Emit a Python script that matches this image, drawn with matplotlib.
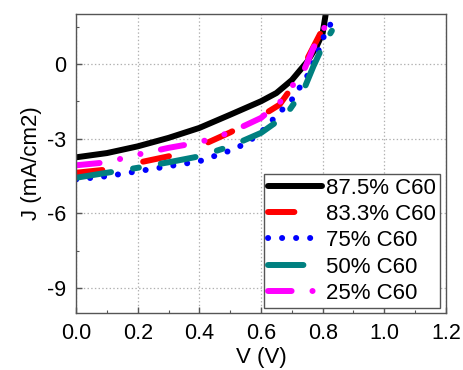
import matplotlib
matplotlib.use("Agg")
import matplotlib.pyplot as plt
from matplotlib.ticker import MultipleLocator

plt.rcParams['font.family'] = ['Liberation Sans', 'DejaVu Sans']
plt.rcParams['lines.scale_dashes'] = False

# Data
V_875 = [0.0, 0.1, 0.2, 0.3, 0.4, 0.5, 0.6, 0.65, 0.7, 0.75, 0.78, 0.8, 0.81]
J_875 = [-3.75, -3.58, -3.31, -2.97, -2.57, -2.04, -1.5, -1.17, -0.65, 0.09, 0.69, 1.23, 2.0]

V_833 = [0.0, 0.1, 0.2, 0.3, 0.4, 0.5, 0.6, 0.66, 0.7, 0.75, 0.8, 0.82]
J_833 = [-4.37, -4.24, -3.97, -3.71, -3.31, -2.75, -2.1, -1.64, -0.95, 0.2, 1.4, 2.0]

V_75 = [0.0, 0.1, 0.2, 0.3, 0.4, 0.5, 0.55, 0.6, 0.65, 0.7, 0.75, 0.78, 0.8, 0.83]
J_75 = [-4.64, -4.51, -4.31, -4.11, -3.91, -3.48, -3.2, -2.75, -2.08, -1.44, -0.48, 0.3, 1.0, 1.7]

V_50 = [0.0, 0.1, 0.2, 0.3, 0.4, 0.5, 0.6, 0.68, 0.74, 0.77, 0.8, 0.83]
J_50 = [-4.57, -4.37, -4.17, -3.95, -3.71, -3.31, -2.77, -2.07, -1.0, -0.1, 0.7, 1.33]

V_25 = [0.0, 0.1, 0.2, 0.3, 0.4, 0.5, 0.6, 0.67, 0.7, 0.74, 0.77, 0.8, 0.82]
J_25 = [-4.07, -3.95, -3.64, -3.37, -3.15, -2.75, -2.17, -1.44, -0.91, -0.24, 0.64, 1.3, 1.86]

labels = ["87.5% C60", "83.3% C60", "75% C60", "50% C60", "25% C60"]
colors = ["#000000", "#ff0000", "#0000ff", "#008080", "#ff00ff"]
xticks = [0.0, 0.2, 0.4, 0.6, 0.8, 1.0, 1.2]
xticklabels = ["0.0", "0.2", "0.4", "0.6", "0.8", "1.0", "1.2"]
yticks = [-9, -6, -3, 0]
yticklabels = ["-9", "-6", "-3", "0"]

fig = plt.figure(figsize=(4.64, 3.70), dpi=100)
ax = fig.add_axes([0.164, 0.154, 0.797, 0.808])

lw = 4.3
ax.plot(V_875, J_875, color=colors[0], lw=lw, solid_capstyle='round', label=labels[0])
ax.plot(V_833, J_833, color=colors[1], lw=lw, dashes=(19, 30), dash_capstyle='round', label=labels[1])
ax.plot(V_75, J_75, color=colors[2], lw=lw, dashes=(0.1, 10), dash_capstyle='round', label=labels[2])
ax.plot(V_50, J_50, color=colors[3], lw=lw, dashes=(25.5, 16, 4.3, 16), dash_capstyle='round', label=labels[3])
ax.plot(V_25, J_25, color=colors[4], lw=lw, dashes=(17, 15, 0.1, 15, 0.1, 15), dash_capstyle='round', label=labels[4])

ax.set_xlim(0, 1.2)
ax.set_ylim(-10, 2)
ax.xaxis.set_minor_locator(MultipleLocator(0.1))
ax.yaxis.set_minor_locator(MultipleLocator(1.5))
ax.set_xticks(xticks)
ax.set_xticklabels(xticklabels)
ax.set_yticks(yticks)
ax.set_yticklabels(yticklabels)

ax.grid(True, which='major', color='#b0b0b0', linestyle=':', linewidth=0.9)
ax.tick_params(which='both', direction='in', color='#555555', labelsize=15.5)
ax.tick_params(axis='x', pad=7)
ax.tick_params(axis='y', pad=7)
ax.tick_params(which='major', length=4, width=1)
ax.tick_params(which='minor', length=2.5, width=0.8)
for s in ax.spines.values():
    s.set_color('#555555')
    s.set_linewidth(1.0)

ax.set_xlabel("V (V)", fontsize=16, labelpad=2)
ax.set_ylabel("J (mA/cm2)", fontsize=16, labelpad=4)

leg = ax.legend(loc='lower right', bbox_to_anchor=(0.984, 0.017), fontsize=16,
                handlelength=2.4, handletextpad=0.2, labelspacing=0.24,
                borderpad=0.18, borderaxespad=0.0, fancybox=False, framealpha=1)
leg.get_frame().set_edgecolor('#555555')
leg.get_frame().set_linewidth(1.0)

fig.savefig("out.png", dpi=100)
